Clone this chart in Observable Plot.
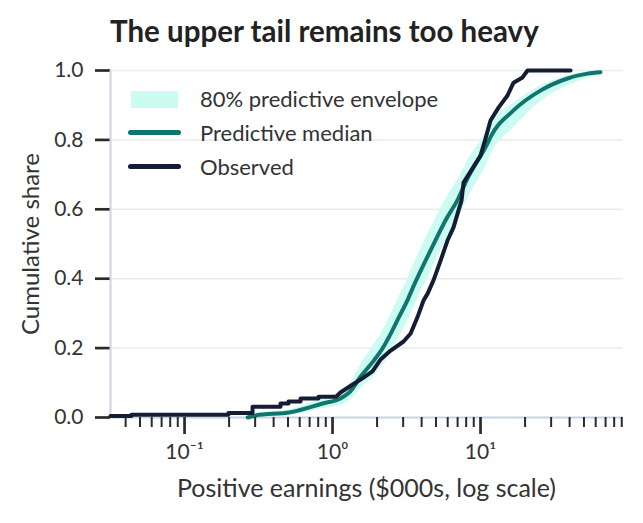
<!DOCTYPE html>
<html>
<head>
<meta charset="utf-8">
<script src="https://cdn.jsdelivr.net/npm/d3@7"></script>
<script src="https://cdn.jsdelivr.net/npm/@observablehq/plot@0.6"></script>
<style>
  html, body { margin: 0; padding: 0; background: #fff; }
  #wrap { position: relative; width: 643px; height: 523px; font-family: Lato, "Noto Sans", sans-serif; color: #333; }
  #head { height: 53px; position: relative; }
  .t { position: absolute; white-space: nowrap; line-height: 1; }
  #title { left: 110px; font-size: 29.5px; font-weight: 700; color: #222; }
  #chart { display: block; }
  #chart svg { display: block; }
  #xlabel { left: 110px; width: 513px; text-align: center; font-size: 25px; }
  #ylabel { width: 300px; text-align: center; font-size: 24px; transform-origin: 50% 50%; }
  .sw { position: absolute; }
  .lt { font-size: 22px; left: 200px; }
</style>
</head>
<body>
<div id="wrap">
  <div id="head"><div id="title" class="t">The upper tail remains too heavy</div></div>
  <div id="chart"></div>
  <div id="xlabel" class="t">Positive earnings ($000s, log scale)</div>
  <div id="ylabel" class="t">Cumulative share</div>
  <div class="sw" style="left:131px;top:91px;width:47px;height:17px;background:#ccfbf1"></div>
  <div class="sw" style="left:128px;top:130px;width:53px;height:5px;border-radius:2.5px;background:#0f766e"></div>
  <div class="sw" style="left:128px;top:164px;width:53px;height:5px;border-radius:2.5px;background:#141d33"></div>
  <div id="l1" class="t lt">80% predictive envelope</div>
  <div id="l2" class="t lt">Predictive median</div>
  <div id="l3" class="t lt">Observed</div>
</div>
<script>
// ---- data ----
// Predictive median CDF and 80% envelope (earnings in $000s)
const gridEarnings = [0.267, 0.302, 0.520, 0.869, 1.13, 1.32, 1.55, 1.90, 2.17, 2.47, 2.81, 3.20, 3.54, 4.59, 5.96, 6.96, 8.17, 11.15, 11.68, 16.71, 25.4, 38.7, 52.8, 64.7];
const medianShare  = [0.000, 0.006, 0.015, 0.041, 0.055, 0.075, 0.118, 0.164, 0.198, 0.241, 0.289, 0.337, 0.380, 0.481, 0.577, 0.625, 0.689, 0.790, 0.808, 0.885, 0.942, 0.977, 0.991, 0.995];
const envelopeLo   = [0.000, 0.002, 0.007, 0.026, 0.035, 0.050, 0.083, 0.119, 0.148, 0.186, 0.231, 0.277, 0.318, 0.419, 0.517, 0.565, 0.630, 0.735, 0.755, 0.835, 0.910, 0.955, 0.978, 0.988];
const envelopeHi   = [0.003, 0.010, 0.023, 0.056, 0.075, 0.100, 0.153, 0.209, 0.248, 0.296, 0.347, 0.397, 0.442, 0.543, 0.637, 0.682, 0.739, 0.830, 0.846, 0.905, 0.955, 0.985, 0.996, 0.998];

// Observed empirical CDF
const obsEarnings = [0.0316, 0.0438, 0.0438, 0.198, 0.198, 0.288, 0.288, 0.445, 0.445, 0.504, 0.504, 0.608, 0.608, 0.804, 0.804, 1.06, 1.13, 1.37, 1.62, 1.86, 2.11, 2.47, 3.02, 3.37, 3.74, 4.12, 4.39, 4.81, 5.37, 5.98, 6.57, 7.10, 7.44, 7.68, 8.83, 10.0, 10.81, 11.68, 13.23, 15.22, 16.71, 19.22, 20.78, 40.6];
const obsShare    = [0.004, 0.004, 0.008, 0.008, 0.013, 0.013, 0.031, 0.031, 0.040, 0.040, 0.046, 0.046, 0.055, 0.055, 0.060, 0.060, 0.072, 0.095, 0.115, 0.133, 0.167, 0.193, 0.219, 0.242, 0.288, 0.337, 0.357, 0.395, 0.452, 0.510, 0.548, 0.597, 0.625, 0.677, 0.718, 0.755, 0.804, 0.856, 0.893, 0.928, 0.965, 0.980, 1.000, 1.000];

// axes
const xDomain = [0.0316, 92.5];
const xMajorTicks = [0.1, 1, 10];
const xMajorLabels = ["10\u207B\u00B9", "10\u2070", "10\u00B9"];
const xMinorTicks = [0.04, 0.05, 0.06, 0.07, 0.08, 0.09, 0.2, 0.3, 0.4, 0.5, 0.6, 0.7, 0.8, 0.9, 2, 3, 4, 5, 6, 7, 8, 9, 20, 30, 40, 50, 60, 70, 80, 90];
const yTicks = [0, 0.2, 0.4, 0.6, 0.8, 1.0];
const yTickLabels = ["0.0", "0.2", "0.4", "0.6", "0.8", "1.0"];

const xLabelOf = new Map(xMajorTicks.map((t, i) => [t, xMajorLabels[i]]));
const yLabelOf = new Map(yTicks.map((t, i) => [t, yTickLabels[i]]));

const band = gridEarnings.map((x, i) => ({x, med: medianShare[i], lo: envelopeLo[i], hi: envelopeHi[i]}));
const observed = obsEarnings.map((x, i) => ({x, y: obsShare[i]}));

const tickColor = "#2a2a2a";

const chart = Plot.plot({
  width: 643,
  height: 470,
  marginLeft: 110,
  marginRight: 20,
  marginTop: 17,
  marginBottom: 106,
  style: {fontFamily: "Lato, 'Noto Sans', sans-serif", fontSize: "21px", color: "#333"},
  x: {type: "log", domain: xDomain},
  y: {domain: [0, 1]},
  marks: [
    Plot.axisY(yTicks, {anchor: "left", tickSize: 15, tickPadding: 12, stroke: tickColor, strokeWidth: 2.7, tickFormat: d => yLabelOf.get(d), label: null}),
    Plot.gridY(yTicks, {stroke: "#e6ebf0", strokeOpacity: 1, strokeWidth: 1.5}),
    Plot.ruleY([0], {stroke: "#cbd5e1", strokeWidth: 2}),
    Plot.ruleX([xDomain[0]], {stroke: "#cbd5e1", strokeWidth: 2}),
    Plot.areaY(band, {x: "x", y1: "lo", y2: "hi", fill: "#ccfbf1", fillOpacity: 1, curve: "monotone-x"}),
    Plot.line(band, {x: "x", y: "med", stroke: "#0f766e", strokeWidth: 4, curve: "monotone-x", strokeLinecap: "round"}),
    Plot.line(observed, {x: "x", y: "y", stroke: "#141d33", strokeWidth: 4, strokeLinejoin: "round", strokeLinecap: "round"}),
    Plot.axisX(xMinorTicks, {anchor: "bottom", tickSize: 10, stroke: tickColor, strokeWidth: 2, tickFormat: d => "", label: null}),
    Plot.axisX(xMajorTicks, {anchor: "bottom", tickSize: 17, tickPadding: 10, stroke: tickColor, strokeWidth: 2.7, tickFormat: d => xLabelOf.get(d), label: null})
  ]
});
document.getElementById("chart").appendChild(chart);

// place overlay texts by baseline (Lato: baseline at 0.887em with line-height 1)
function placeBaseline(id, baseline, size) {
  const el = document.getElementById(id);
  el.style.top = (baseline - 0.887 * size) + "px";
}
placeBaseline("title", 41.7, 29.5);
placeBaseline("xlabel", 497, 25);
placeBaseline("l1", 108, 22);
placeBaseline("l2", 142, 22);
placeBaseline("l3", 175.5, 22);
const yl = document.getElementById("ylabel");
yl.style.left = (30 - 150) + "px";
yl.style.top = (243.5 - 12) + "px";
yl.style.transform = "rotate(-90deg)";
</script>
</body>
</html>
